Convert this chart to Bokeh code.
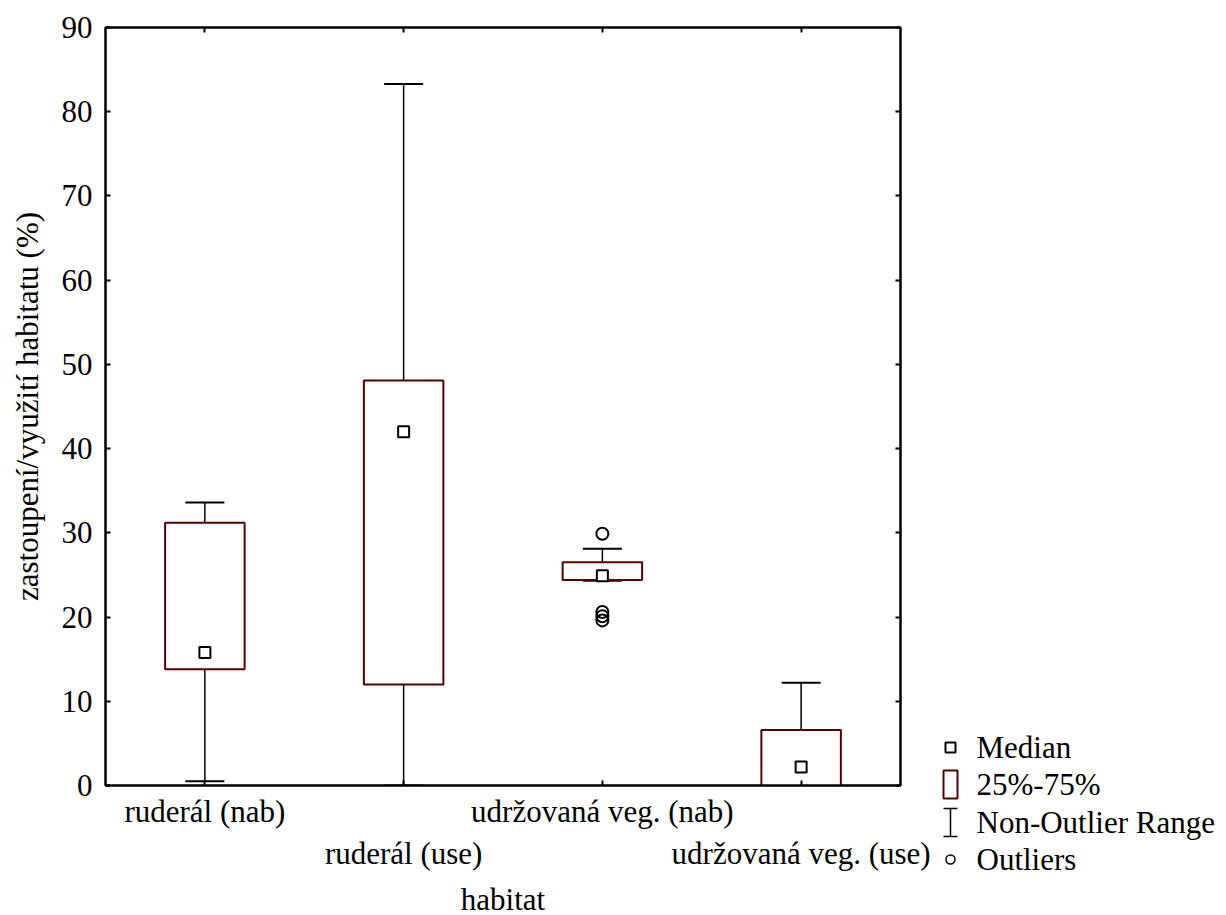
from bokeh.plotting import figure
from bokeh.models import Range1d, LinearAxis, FixedTicker, ColumnDataSource, Whisker, TeeHead
from bokeh.layouts import row
from bokeh.embed import file_html
from bokeh.resources import INLINE
from bokeh.core.properties import value

# ---- data ----
categories = ["ruderál (nab)", "ruderál (use)", "udržovaná veg. (nab)", "udržovaná veg. (use)"]
cat_pos = [1, 2, 3, 4]
medians = [15.8, 42.0, 24.9, 2.2]
q1 = [13.8, 12.0, 24.4, 0.0]
q3 = [31.2, 48.1, 26.5, 6.6]
whisk_low = [0.5, 0.0, 24.3, 0.0]
whisk_high = [33.6, 83.3, 28.1, 12.2]
outlier_pos = [3, 3, 3, 3]
outlier_val = [29.9, 20.6, 20.1, 19.6]
y_ticks = [0, 10, 20, 30, 40, 50, 60, 70, 80, 90]
legend_labels = ["Median", "25%-75%", "Non-Outlier Range", "Outliers"]

FONT = "Liberation Serif"
FS = "31px"
BOX = "#550000"
W1 = 940

p = figure(width=W1, height=915, frame_width=795, frame_height=758,
           x_range=Range1d(0.5, 4.5), y_range=Range1d(0, 90),
           output_backend="svg", toolbar_location=None,
           x_axis_location=None, y_axis_location=None,
           min_border_left=105, min_border_right=W1 - 900,
           min_border_top=27, min_border_bottom=130)
p.frame_align = False
p.grid.visible = False
p.outline_line_color = "black"
p.outline_line_width = 2
p.background_fill_color = "white"
p.border_fill_color = "white"


def style_axis(ax):
    ax.axis_line_color = "black"
    ax.axis_line_width = 2
    ax.major_tick_line_color = "black"
    ax.major_tick_line_width = 2
    ax.major_tick_in = 5
    ax.major_tick_out = 0
    ax.minor_tick_line_color = None
    ax.major_label_text_font = FONT
    ax.major_label_text_font_size = FS
    ax.major_label_text_color = "black"
    ax.axis_label_text_font = FONT
    ax.axis_label_text_font_size = FS
    ax.axis_label_text_font_style = "normal"
    ax.axis_label_text_color = "black"


yl = LinearAxis(ticker=FixedTicker(ticks=y_ticks), axis_label="zastoupení/využití habitatu (%)")
style_axis(yl)
yl.major_label_standoff = 13
yl.axis_label_standoff = 14
p.add_layout(yl, "left")

yr = LinearAxis(ticker=FixedTicker(ticks=y_ticks), major_label_overrides={t: "" for t in y_ticks})
style_axis(yr)
p.add_layout(yr, "right")

xt = LinearAxis(ticker=FixedTicker(ticks=cat_pos), major_label_overrides={t: "" for t in cat_pos})
style_axis(xt)
p.add_layout(xt, "above")

# staggered category labels: row 1 (odd), row 2 (even)
xb1 = LinearAxis(ticker=FixedTicker(ticks=cat_pos),
                 major_label_overrides={c: (categories[i] if i % 2 == 0 else "") for i, c in enumerate(cat_pos)})
style_axis(xb1)
xb1.major_label_standoff = 8
p.add_layout(xb1, "below")

xb2 = LinearAxis(ticker=FixedTicker(ticks=cat_pos[1::2]),
                 major_label_overrides={c: categories[i] for i, c in enumerate(cat_pos) if i % 2 == 1},
                 axis_label="habitat")
style_axis(xb2)
xb2.axis_line_color = None
xb2.major_tick_line_color = None
xb2.major_label_standoff = 4
xb2.axis_label_standoff = 8
p.add_layout(xb2, "below")

src = ColumnDataSource(dict(x=cat_pos, med=medians, q1=q1, q3=q3, lo=whisk_low, hi=whisk_high))

wh = Whisker(source=src, base="x", lower="lo", upper="hi", dimension="height",
             line_color="black", line_width=1.5, level="underlay",
             lower_head=TeeHead(size=39, line_color="black", line_width=2),
             upper_head=TeeHead(size=39, line_color="black", line_width=2))
p.add_layout(wh)

p.vbar(x="x", width=0.4, bottom="q1", top="q3", source=src,
       fill_color="white", line_color=BOX, line_width=2)
p.scatter(x="x", y="med", source=src, marker="square", size=11,
          fill_color="white", line_color="black", line_width=2)
p.scatter(x=outlier_pos, y=outlier_val, marker="circle", size=12,
          fill_color=None, line_color="black", line_width=2)

# ---- legend panel ----
W2 = 1226 - W1
lg = figure(width=W2, height=915, x_range=Range1d(W1, 1226), y_range=Range1d(915, 0),
            output_backend="svg", toolbar_location=None,
            x_axis_location=None, y_axis_location=None, min_border=0)
lg.frame_align = False
lg.grid.visible = False
lg.outline_line_color = None
lg.border_fill_color = "white"
lg.background_fill_color = "white"

icon_x = 950
text_x = 976
rows_y = [747, 784, 822, 859]

lg.scatter(x=[icon_x], y=[rows_y[0]], marker="square", size=10,
           fill_color="white", line_color="black", line_width=2)
lg.quad(left=[icon_x - 7], right=[icon_x + 7], top=[rows_y[1] - 14], bottom=[rows_y[1] + 14],
        fill_color="white", line_color=BOX, line_width=2)
lg.segment(x0=[icon_x, icon_x - 7, icon_x - 7], y0=[rows_y[2] - 14, rows_y[2] - 14, rows_y[2] + 14],
           x1=[icon_x, icon_x + 7, icon_x + 7], y1=[rows_y[2] + 14, rows_y[2] - 14, rows_y[2] + 14],
           line_color="black", line_width=1.5)
lg.scatter(x=[icon_x], y=[rows_y[3]], marker="circle", size=9,
           fill_color=None, line_color="black", line_width=1.5)
lg.text(x=[text_x] * 4, y=rows_y, text=legend_labels, text_font=value(FONT),
        text_font_size=FS, text_baseline="middle", text_align="left", text_color="black")

layout = row(p, lg)
open("out.html", "w").write(file_html(layout, INLINE))
